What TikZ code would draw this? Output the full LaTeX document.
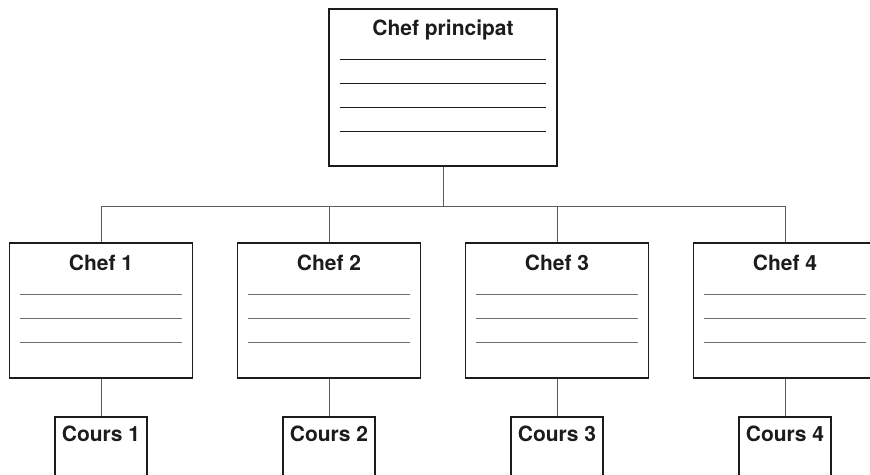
\documentclass[tikz,border=0pt]{standalone}
\usepackage{fontspec}
\setmainfont{TeX Gyre Heros}
\usepackage{tikz}
\usetikzlibrary{positioning,calc}
\definecolor{orgframe}{HTML}{1C1C1C}
\definecolor{orglink}{HTML}{5C5C5C}
\definecolor{orgrule}{HTML}{707070}

\begin{document}
\begin{tikzpicture}[x=1pt,y=-1pt, every node/.style={font=\bfseries\fontsize{21}{24}\selectfont,text=orgframe}]
    \tikzstyle{box}=[draw=orgframe,line width=1.8pt,inner sep=0pt]
    \tikzstyle{title}=[anchor=base,inner sep=0pt]
    \tikzstyle{link}=[draw=orglink,line width=1pt]
    \tikzstyle{rule}=[draw=orgrule,line width=1.2pt]
    \useasboundingbox (0,0) rectangle (870,474);
    % main box
    \node[box,minimum width=228pt,minimum height=157pt] (chefp) at (443,87.5) {};
    \node[title] (chefptext) at ($(chefp.north)+(0,27)$) {Chef principat};
    \foreach \y in {51,75,99,123}
        \draw[rule,draw=orgframe] ($(chefp.north west)+(11.5,\y)$) -- ($(chefp.north east)+(-12,\y)$);
    \coordinate (bus) at (443,206);
    \draw[link] (chefp.south) -- (bus);
    % chefs and cours
    \foreach \i/\x in {1/101,2/329,3/557,4/785} {
        \node[box,minimum width=183pt,minimum height=135pt] (chef\i) at (\x,310.5) {};
        \node[title] (chef\i text) at ($(chef\i.north)+(0,28.5)$) {Chef \i};
        \foreach \y in {52,76,100}
            \draw[rule] ($(chef\i.north west)+(11.5,\y)$) -- ($(chef\i.north east)+(-11.5,\y)$);
        \node[box,minimum width=92pt,minimum height=80pt,anchor=north] (cours\i) at (\x,416) {};
        \node[title] (cours\i text) at ($(cours\i.north)+(0,25.5)$) {Cours \i};
        \draw[link] (chef\i.north) |- (bus);
        \draw[link] (chef\i) -- (cours\i);
    }
\end{tikzpicture}
\end{document}
